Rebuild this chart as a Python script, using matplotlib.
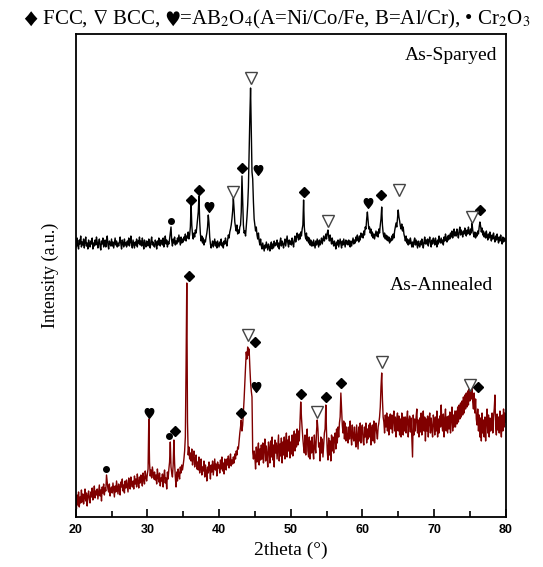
import matplotlib
matplotlib.use('Agg')
import matplotlib.pyplot as plt
import numpy as np

plt.rcParams['font.family'] = ['Liberation Serif', 'DejaVu Sans']
plt.rcParams['mathtext.fontset'] = 'stix'

# 2theta grid, 0.1 deg steps from 20 to 80
two_theta = np.round(np.arange(20.0, 80.05, 0.1), 1)

# As-Sprayed pattern (a.u.), one row per degree
sprayed = [
    276, 270, 279, 272, 268, 277, 273, 281, 270, 275,
    272, 278, 269, 275, 280, 271, 274, 268, 277, 273,
    270, 276, 273, 279, 268, 274, 271, 277, 272, 280,
    275, 269, 274, 278, 271, 267, 276, 273, 279, 270,
    273, 277, 270, 275, 281, 272, 268, 276, 274, 271,
    278, 271, 275, 269, 274, 279, 272, 276, 270, 274,
    271, 275, 280, 273, 268, 277, 274, 270, 278, 272,
    274, 270, 276, 272, 279, 271, 275, 281, 273, 269,
    277, 273, 269, 275, 272, 278, 270, 276, 274, 280,
    272, 276, 271, 279, 274, 268, 277, 273, 270, 276,
    275, 271, 278, 273, 269, 276, 280, 272, 275, 271,
    270, 277, 274, 268, 276, 272, 279, 274, 271, 277,
    276, 272, 279, 270, 275, 281, 273, 277, 270, 275,
    273, 278, 284, 290, 276, 271, 278, 274, 280, 272,
    276, 273, 279, 275, 282, 277, 272, 280, 274, 278,
    275, 280, 277, 283, 276, 281, 279, 285, 278, 282,
    290, 313, 292, 282, 278, 284, 280, 287, 284, 290,
    298, 305, 321, 296, 283, 276, 281, 274, 279, 272,
    277, 275, 280, 284, 290, 302, 294, 280, 273, 269,
    272, 276, 270, 274, 278, 271, 275, 269, 276, 273,
    270, 275, 272, 278, 271, 274, 269, 276, 273, 279,
    274, 271, 277, 282, 279, 285, 288, 292, 298, 306,
    319, 308, 295, 290, 286, 292, 283, 287, 284, 290,
    292, 305, 341, 318, 292, 284, 286, 281, 290, 300,
    312, 330, 365, 400, 429, 385, 345, 338, 315, 298,
    292, 286, 290, 282, 278, 284, 276, 272, 278, 271,
    268, 274, 270, 266, 272, 269, 275, 271, 267, 273,
    270, 266, 272, 275, 268, 273, 269, 276, 271, 274,
    272, 277, 270, 274, 268, 275, 279, 271, 276, 273,
    269, 274, 278, 271, 276, 281, 274, 270, 277, 273,
    276, 272, 279, 274, 270, 277, 281, 275, 279, 284,
    280, 277, 283, 278, 285, 281, 288, 292, 317, 290,
    282, 278, 284, 276, 280, 274, 279, 272, 277, 271,
    275, 271, 277, 273, 269, 276, 272, 278, 274, 270,
    277, 272, 275, 279, 273, 277, 281, 276, 279, 283,
    278, 284, 287, 280, 276, 282, 277, 273, 279, 274,
    271, 276, 273, 268, 275, 272, 277, 270, 274, 278,
    273, 269, 276, 272, 278, 274, 270, 277, 273, 276,
    272, 277, 274, 270, 276, 271, 275, 279, 273, 277,
    274, 280, 276, 282, 278, 275, 281, 277, 284, 280,
    283, 279, 286, 282, 290, 288, 298, 305, 296, 288,
    290, 284, 288, 281, 285, 279, 283, 278, 282, 286,
    281, 285, 280, 288, 284, 292, 298, 310, 292, 284,
    280, 284, 278, 282, 277, 281, 276, 280, 274, 278,
    276, 281, 277, 283, 279, 286, 290, 294, 290, 298,
    307, 300, 296, 291, 288, 293, 286, 290, 283, 280,
    276, 281, 274, 278, 272, 277, 273, 279, 275, 270,
    275, 270, 276, 279, 272, 277, 273, 269, 276, 272,
    270, 276, 272, 278, 274, 269, 275, 280, 273, 277,
    273, 278, 271, 276, 280, 274, 270, 277, 273, 279,
    276, 272, 279, 275, 270, 277, 273, 281, 276, 274,
    279, 274, 277, 272, 280, 276, 283, 278, 275, 281,
    277, 282, 278, 284, 280, 286, 279, 283, 288, 281,
    285, 281, 288, 283, 279, 286, 290, 282, 287, 284,
    280, 286, 283, 289, 284, 281, 287, 283, 290, 285,
    282, 288, 284, 294, 287, 283, 280, 285, 279, 284,
    281, 286, 283, 290, 295, 291, 285, 289, 282, 286,
    280, 284, 279, 286, 281, 277, 283, 279, 285, 280,
    276, 282, 278, 284, 279, 275, 281, 277, 283, 278,
    274, 280, 276, 282, 277, 273, 280, 275, 279, 276,
    278,
]

# As-Annealed pattern (a.u.)
annealed = [
    17, 8, 22, 12, 25, 10, 20, 14, 27, 15,
    23, 13, 19, 28, 16, 24, 11, 21, 26, 18,
    14, 25, 20, 29, 17, 23, 31, 19, 26, 22,
    28, 18, 25, 32, 21, 27, 16, 30, 24, 33,
    22, 29, 26, 42, 35, 28, 25, 33, 21, 28,
    30, 24, 34, 27, 20, 31, 25, 36, 29, 23,
    33, 27, 22, 35, 30, 38, 26, 32, 24, 36,
    29, 37, 31, 25, 39, 33, 28, 40, 34, 30,
    36, 28, 41, 33, 38, 30, 43, 35, 29, 40,
    34, 42, 37, 31, 44, 38, 33, 46, 40, 36,
    43, 48, 98, 55, 41, 47, 39, 50, 44, 38,
    45, 37, 42, 33, 48, 40, 35, 44, 31, 39,
    36, 43, 30, 41, 47, 34, 39, 28, 45, 38,
    48, 55, 75, 50, 44, 40, 52, 77, 54, 40,
    30, 45, 36, 48, 42, 38, 50, 44, 52, 47,
    52, 58, 66, 80, 150, 234, 95, 62, 70, 58,
    64, 56, 68, 52, 60, 66, 50, 58, 62, 48,
    55, 47, 60, 44, 52, 58, 42, 50, 46, 56,
    40, 52, 46, 36, 50, 44, 55, 48, 38, 52,
    45, 56, 42, 50, 58, 47, 53, 41, 55, 49,
    52, 44, 57, 48, 60, 46, 54, 43, 58, 50,
    47, 58, 52, 61, 49, 55, 63, 51, 57, 53,
    60, 54, 63, 58, 66, 62, 70, 68, 76, 84,
    90, 97, 86, 92, 105, 118, 135, 150, 165, 158,
    170, 162, 168, 150, 135, 126, 120, 65, 58, 66,
    60, 48, 70, 55, 66, 74, 52, 68, 57, 72,
    58, 74, 54, 69, 78, 56, 71, 62, 50, 75,
    68, 54, 76, 60, 80, 57, 72, 50, 77, 64,
    74, 58, 70, 82, 56, 73, 61, 79, 54, 75,
    62, 80, 58, 74, 84, 60, 77, 66, 81, 59,
    75, 63, 82, 61, 78, 86, 66, 83, 70, 88,
    72, 86, 76, 96, 115, 100, 88, 78, 70, 64,
    82, 62, 78, 88, 66, 60, 80, 58, 76, 64,
    80, 66, 58, 82, 70, 64, 85, 97, 88, 70,
    74, 56, 80, 64, 78, 60, 72, 84, 88, 112,
    85, 66, 57, 79, 62, 76, 56, 82, 66, 80,
    64, 79, 84, 68, 88, 74, 90, 80, 94, 100,
    124, 108, 92, 84, 96, 78, 94, 76, 90, 80,
    74, 90, 78, 96, 82, 72, 92, 80, 76, 90,
    78, 70, 92, 80, 68, 90, 76, 94, 74, 88,
    92, 76, 72, 90, 80, 94, 74, 88, 78, 92,
    80, 94, 72, 88, 92, 76, 96, 74, 90, 94,
    84, 78, 90, 94, 100, 110, 130, 144, 118, 100,
    95, 84, 102, 90, 104, 86, 100, 82, 98, 103,
    88, 102, 84, 99, 106, 86, 100, 80, 98, 104,
    86, 101, 82, 98, 80, 104, 90, 82, 100, 86,
    100, 84, 98, 106, 80, 96, 101, 85, 99, 78,
    60, 102, 82, 98, 86, 100, 108, 84, 97, 80,
    99, 85, 104, 82, 97, 106, 86, 100, 76, 98,
    86, 101, 80, 97, 104, 84, 99, 88, 80, 102,
    97, 82, 100, 86, 106, 80, 98, 84, 101, 90,
    112, 92, 86, 103, 80, 98, 108, 86, 100, 84,
    101, 88, 105, 84, 99, 110, 86, 102, 90, 106,
    90, 106, 93, 110, 95, 112, 98, 114, 100, 116,
    102, 120, 104, 122, 108, 124, 110, 126, 112, 128,
    116, 132, 118, 134, 115, 108, 124, 104, 118, 98,
    92, 108, 86, 102, 80, 99, 76, 104, 84, 97,
    80, 100, 76, 96, 108, 84, 102, 80, 99, 86,
    88, 104, 84, 100, 108, 122, 90, 82, 103, 87,
    100, 84, 106, 88, 80, 102, 86, 108, 90, 104,
    95,
]

# phase markers: (2theta, height)
spr_fcc = [(36.05, 317), (37.16, 327), (43.2, 349), (51.8, 325), (62.6, 322), (76.47, 307)]
spr_bcc = [(41.95, 325), (44.5, 439), (55.26, 296), (65.1, 327), (75.3, 300)]
spr_spinel = [(38.56, 310), (45.5, 347), (60.8, 314)]
spr_cr2o3 = [(33.35, 296)]

ann_fcc = [(33.91, 86), (35.77, 241), (43.07, 104), (45.02, 175), (51.49, 123),
           (54.88, 120), (57.07, 134), (76.19, 130)]
ann_bcc = [(44.0, 182), (53.67, 105), (62.7, 155), (74.97, 132)]
ann_spinel = [(30.23, 104), (45.12, 130)]
ann_cr2o3 = [(24.28, 48), (33.02, 81)]

fig = plt.figure(figsize=(5.43, 5.67), dpi=100)
ax = fig.add_axes([0.1394, 0.0882, 0.7919, 0.8518])

ax.plot(two_theta, sprayed, color='black', linewidth=1.0)
ax.plot(two_theta, annealed, color='#800000', linewidth=1.0)


def put_marks(pts, **kw):
    xs = [p[0] for p in pts]
    ys = [p[1] for p in pts]
    ax.plot(xs, ys, linestyle='none', **kw)


for fcc, bcc, sp, cr in [(spr_fcc, spr_bcc, spr_spinel, spr_cr2o3),
                         (ann_fcc, ann_bcc, ann_spinel, ann_cr2o3)]:
    put_marks(fcc, marker='D', markersize=5, color='black')
    put_marks(bcc, marker='v', markersize=9, markerfacecolor='white',
              markeredgecolor='#444444', markeredgewidth=1.0)
    put_marks(sp, marker='$♥$', markersize=7, color='black')
    put_marks(cr, marker='o', markersize=4, color='black')

ax.set_xlim(20, 80)
ax.set_ylim(0, 483)
ax.set_yticks([])
ax.set_xticks(np.arange(20, 81, 10))
ax.set_xticks(np.arange(25, 80, 10), minor=True)
ax.tick_params(axis='x', which='major', direction='in', length=6, width=1.2, pad=5)
ax.tick_params(axis='x', which='minor', direction='in', length=4, width=1.2)
for lbl in ax.get_xticklabels():
    lbl.set_fontfamily('Liberation Sans')
    lbl.set_fontweight('bold')
    lbl.set_fontsize(9)
for s in ax.spines.values():
    s.set_linewidth(1.3)

ax.set_xlabel('2theta (°)', fontsize=14, labelpad=4)
ax.set_ylabel('Intensity (a.u.)', fontsize=13, labelpad=12)

ax.text(0.98, 0.946, 'As-Sparyed', transform=ax.transAxes, ha='right',
        va='baseline', fontsize=14)
ax.text(0.97, 0.470, 'As-Annealed', transform=ax.transAxes, ha='right',
        va='baseline', fontsize=14)

fig.text(0.51, 0.956,
         r'$♦$ FCC, $\nabla$ BCC, $♥$=AB$_2$O$_4$(A=Ni/Co/Fe, B=Al/Cr), • Cr$_2$O$_3$',
         ha='center', va='baseline', fontsize=15)

fig.savefig('out.png', dpi=100)
